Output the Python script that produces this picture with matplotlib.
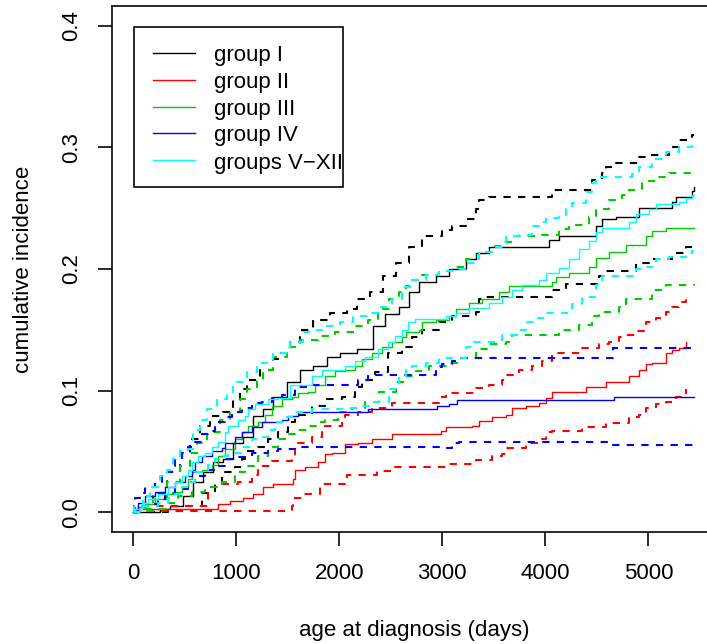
import matplotlib
matplotlib.use("Agg")
import matplotlib.pyplot as plt
from matplotlib.transforms import Affine2D

plt.rcParams['font.family'] = ['Liberation Sans', 'DejaVu Sans']

# ---------------- data (days, cumulative incidence) ----------------
labels = ["group I", "group II", "group III", "group IV", "groups V\u2212XII"]
colors = ["#000000", "#FF0000", "#00CD00", "#0000FF", "#00FFFF"]

g1_t = [0, 259, 356, 482, 578, 675, 772, 869, 966, 1063, 1160, 1257, 1354, 1489, 1615, 1741, 1877, 2003, 2168,
        2323, 2439, 2584, 2681, 2778, 2943, 3069, 3234, 3331, 3457, 4039, 4136, 4494, 4552, 4688, 4911, 5231,
        5270, 5425, 5440]
g1_y = [0, 0.0025, 0.005, 0.013, 0.025, 0.033, 0.041, 0.044, 0.057, 0.062, 0.079, 0.085, 0.095, 0.107, 0.117,
        0.120, 0.128, 0.131, 0.134, 0.153, 0.163, 0.169, 0.181, 0.189, 0.194, 0.200, 0.208, 0.213, 0.218, 0.224,
        0.227, 0.235, 0.241, 0.243, 0.250, 0.255, 0.259, 0.264, 0.267]
g1_up_t = [0, 193, 327, 453, 549, 646, 743, 869, 966, 1034, 1101, 1227, 1354, 1421, 1518, 1615, 1741, 1906, 2071,
           2168, 2294, 2420, 2555, 2681, 2807, 3001, 3098, 3234, 3331, 3360, 3457, 4068, 4455, 4552, 4591, 4688,
           4911, 5008, 5202, 5299, 5425, 5440]
g1_up_y = [0, 0.016, 0.033, 0.049, 0.060, 0.071, 0.079, 0.082, 0.092, 0.101, 0.109, 0.117, 0.126, 0.131, 0.140,
           0.150, 0.158, 0.164, 0.167, 0.175, 0.181, 0.194, 0.205, 0.218, 0.227, 0.232, 0.235, 0.241, 0.249, 0.257,
           0.259, 0.265, 0.273, 0.279, 0.284, 0.287, 0.292, 0.294, 0.300, 0.306, 0.310, 0.310]
g1_lo_t = [0, 337, 501, 666, 792, 860, 985, 1053, 1082, 1208, 1305, 1402, 1499, 1567, 1731, 1857, 2022, 2148, 2216,
           2342, 2468, 2604, 2710, 2807, 2972, 3098, 3331, 3360, 3428, 4068, 4204, 4523, 4591, 4882, 5037, 5231,
           5366, 5440]
g1_lo_y = [0, 0.001, 0.005, 0.016, 0.023, 0.033, 0.037, 0.044, 0.050, 0.054, 0.060, 0.066, 0.074, 0.080, 0.087,
           0.093, 0.095, 0.103, 0.109, 0.115, 0.131, 0.136, 0.144, 0.150, 0.156, 0.161, 0.165, 0.175, 0.177, 0.183,
           0.188, 0.194, 0.198, 0.205, 0.208, 0.213, 0.218, 0.218]

g2_t = [0, 30, 822, 937, 1063, 1160, 1257, 1354, 1547, 1567, 1663, 1789, 1857, 1925, 2051, 2177, 2313, 2507, 2991,
        3040, 3292, 3360, 3486, 3622, 3680, 3816, 3942, 4010, 4068, 4397, 4591, 4814, 4911, 4979, 5037, 5173,
        5231, 5299, 5366]
g2_y = [0, 0.003, 0.0066, 0.009, 0.012, 0.015, 0.021, 0.023, 0.027, 0.035, 0.037, 0.041, 0.048, 0.049, 0.056,
        0.057, 0.060, 0.064, 0.067, 0.070, 0.071, 0.075, 0.078, 0.080, 0.086, 0.087, 0.090, 0.094, 0.099, 0.103,
        0.107, 0.112, 0.117, 0.122, 0.123, 0.131, 0.133, 0.135, 0.140]
g2_up_t = [0, 17, 725, 860, 1015, 1150, 1208, 1344, 1538, 1567, 1731, 1828, 2022, 2051, 2177, 2313, 2507, 2972,
           3040, 3331, 3457, 3583, 3622, 3748, 3874, 3971, 4068, 4359, 4523, 4620, 4717, 4746, 4882, 4979, 5076,
           5173, 5231, 5299, 5366]
g2_up_y = [0, 0.005, 0.021, 0.023, 0.025, 0.031, 0.038, 0.042, 0.046, 0.057, 0.062, 0.071, 0.074, 0.080, 0.082,
           0.086, 0.090, 0.095, 0.098, 0.102, 0.105, 0.109, 0.113, 0.117, 0.120, 0.124, 0.131, 0.135, 0.138, 0.140,
           0.144, 0.146, 0.149, 0.156, 0.160, 0.165, 0.169, 0.173, 0.177]
g2_lo_t = [0, 30, 1538, 1547, 1644, 1809, 1815, 2075, 2361, 2507, 3040, 3331, 3486, 3583, 3622, 3816, 3971, 4010,
           4068, 4359, 4591, 4814, 4911, 4979, 5076, 5173, 5270, 5366]
g2_lo_y = [0, 0.001, 0.005, 0.012, 0.015, 0.019, 0.023, 0.031, 0.034, 0.037, 0.040, 0.043, 0.046, 0.048, 0.053,
           0.057, 0.060, 0.066, 0.067, 0.070, 0.073, 0.078, 0.080, 0.086, 0.089, 0.091, 0.095, 0.101]

g3_t = [0, 47, 114, 210, 307, 375, 472, 530, 569, 666, 763, 820, 889, 985, 1053, 1111, 1208, 1276, 1344, 1441,
        1538, 1596, 1693, 1761, 1857, 1954, 2051, 2148, 2216, 2313, 2410, 2507, 2613, 2652, 2778, 2807, 2943,
        3069, 3137, 3263, 3389, 3554, 3651, 4068, 4107, 4233, 4426, 4494, 4620, 4785, 4979, 5037, 5173, 5440]
g3_y = [0, 0.004, 0.0066, 0.011, 0.015, 0.017, 0.021, 0.027, 0.033, 0.035, 0.039, 0.046, 0.052, 0.060, 0.066,
        0.071, 0.074, 0.080, 0.087, 0.093, 0.095, 0.098, 0.099, 0.105, 0.112, 0.116, 0.117, 0.120, 0.126, 0.131,
        0.136, 0.140, 0.144, 0.148, 0.150, 0.156, 0.158, 0.161, 0.167, 0.172, 0.175, 0.181, 0.186, 0.189, 0.193,
        0.197, 0.202, 0.209, 0.214, 0.220, 0.227, 0.231, 0.234, 0.234]
g3_up_t = [0, 97, 193, 327, 453, 549, 617, 714, 840, 937, 1034, 1101, 1198, 1257, 1354, 1489, 1615, 1789, 1954,
           2148, 2274, 2371, 2487, 2584, 2652, 2710, 2807, 2972, 3098, 3234, 3360, 3486, 3583, 3680, 3971, 4136,
           4233, 4426, 4494, 4620, 4746, 4814, 4940, 5076, 5202, 5440]
g3_up_y = [0, 0.0025, 0.011, 0.025, 0.038, 0.049, 0.057, 0.066, 0.076, 0.082, 0.093, 0.101, 0.109, 0.117, 0.128,
           0.136, 0.142, 0.145, 0.148, 0.153, 0.158, 0.167, 0.175, 0.181, 0.186, 0.191, 0.195, 0.198, 0.202, 0.208,
           0.214, 0.219, 0.222, 0.227, 0.228, 0.233, 0.236, 0.243, 0.249, 0.257, 0.261, 0.265, 0.272, 0.276, 0.279,
           0.280]
g3_lo_t = [0, 87, 242, 337, 433, 569, 695, 743, 860, 985, 1082, 1208, 1305, 1402, 1470, 1596, 1693, 1789, 1857,
           1983, 2119, 2245, 2390, 2555, 2652, 2749, 2875, 3040, 3166, 3331, 3457, 3622, 3680, 4136, 4329, 4455,
           4523, 4717, 4785, 5037, 5173, 5440]
g3_lo_y = [0, 0.001, 0.0025, 0.008, 0.013, 0.017, 0.019, 0.021, 0.025, 0.033, 0.038, 0.046, 0.054, 0.060, 0.064,
           0.068, 0.071, 0.074, 0.076, 0.082, 0.086, 0.091, 0.099, 0.107, 0.112, 0.116, 0.120, 0.123, 0.127, 0.134,
           0.138, 0.140, 0.146, 0.150, 0.154, 0.161, 0.165, 0.169, 0.175, 0.183, 0.187, 0.188]

g4_t = [0, 5, 46, 114, 210, 307, 404, 501, 569, 598, 666, 763, 860, 889, 985, 1053, 1150, 1247, 1441, 1499, 1596,
        2274, 2952, 3069, 3147, 4668, 5440]
g4_y = [0, 0.0025, 0.008, 0.013, 0.017, 0.021, 0.025, 0.030, 0.035, 0.041, 0.046, 0.050, 0.053, 0.057, 0.062,
        0.066, 0.070, 0.074, 0.076, 0.079, 0.082, 0.085, 0.087, 0.089, 0.092, 0.095, 0.095]
g4_up_t = [0, 5, 17, 87, 114, 210, 278, 375, 404, 472, 530, 598, 666, 724, 792, 889, 956, 1053, 1150, 1247, 1344,
           1441, 1567, 1731, 2177, 2274, 2943, 3001, 3098, 3147, 4659, 5440]
g4_up_y = [0, 0.005, 0.012, 0.016, 0.021, 0.025, 0.033, 0.038, 0.044, 0.049, 0.054, 0.058, 0.064, 0.067, 0.074,
           0.078, 0.082, 0.086, 0.090, 0.091, 0.094, 0.096, 0.103, 0.105, 0.109, 0.113, 0.119, 0.122, 0.124, 0.127,
           0.135, 0.135]
g4_lo_t = [0, 46, 143, 242, 307, 404, 530, 598, 695, 792, 889, 985, 1150, 1305, 1402, 1567, 2972, 3098, 3166,
           4649, 5440]
g4_lo_y = [0, 0.005, 0.0066, 0.011, 0.015, 0.019, 0.025, 0.030, 0.035, 0.038, 0.044, 0.045, 0.049, 0.050, 0.052,
           0.054, 0.053, 0.057, 0.058, 0.055, 0.055]

g5_t = [0, 17, 87, 143, 242, 337, 404, 472, 530, 569, 627, 695, 763, 820, 889, 918, 1015, 1082, 1111, 1179, 1305,
        1402, 1518, 1731, 1828, 2051, 2148, 2245, 2371, 2468, 2536, 2604, 2662, 2730, 3040, 3137, 3263, 3457,
        3583, 3680, 3777, 3942, 4010, 4136, 4233, 4329, 4426, 4494, 4552, 4814, 4882, 5008, 5076, 5299, 5366,
        5425, 5440]
g5_y = [0, 0.0025, 0.008, 0.011, 0.015, 0.021, 0.025, 0.030, 0.035, 0.041, 0.046, 0.049, 0.054, 0.058, 0.066,
        0.071, 0.076, 0.079, 0.085, 0.089, 0.093, 0.094, 0.105, 0.112, 0.117, 0.120, 0.124, 0.128, 0.134, 0.140,
        0.145, 0.150, 0.156, 0.159, 0.161, 0.164, 0.168, 0.172, 0.177, 0.183, 0.187, 0.191, 0.197, 0.201, 0.208,
        0.216, 0.223, 0.230, 0.234, 0.239, 0.245, 0.249, 0.253, 0.255, 0.258, 0.261, 0.261]
g5_up_t = [0, 5, 97, 162, 259, 327, 385, 453, 578, 646, 714, 811, 908, 966, 1101, 1198, 1295, 1354, 1518, 1644,
           1780, 1877, 2003, 2129, 2265, 2390, 2516, 2613, 2710, 2846, 2972, 3166, 3234, 3360, 3486, 3622, 3748,
           3874, 3942, 4010, 4136, 4204, 4262, 4397, 4455, 4494, 4843, 4911, 5037, 5173, 5299, 5425, 5440]
g5_up_y = [0, 0.004, 0.013, 0.021, 0.030, 0.035, 0.044, 0.052, 0.068, 0.076, 0.085, 0.093, 0.099, 0.107, 0.115,
           0.123, 0.126, 0.131, 0.140, 0.148, 0.150, 0.153, 0.156, 0.161, 0.164, 0.169, 0.175, 0.185, 0.191, 0.195,
           0.198, 0.200, 0.205, 0.214, 0.218, 0.227, 0.228, 0.235, 0.239, 0.242, 0.243, 0.249, 0.254, 0.263, 0.271,
           0.276, 0.278, 0.284, 0.290, 0.296, 0.300, 0.305, 0.305]
g5_lo_t = [0, 87, 242, 337, 404, 472, 569, 598, 666, 724, 792, 860, 918, 1053, 1150, 1208, 1305, 1373, 1470, 1538,
           1731, 2051, 2177, 2313, 2487, 2584, 2652, 2710, 2846, 2972, 3234, 3292, 3583, 3719, 3816, 3913, 4010,
           4262, 4359, 4494, 4552, 4882, 4979, 5076, 5202, 5366, 5425, 5440]
g5_lo_y = [0, 0.005, 0.008, 0.012, 0.015, 0.021, 0.025, 0.033, 0.035, 0.039, 0.044, 0.046, 0.049, 0.054, 0.060,
           0.062, 0.068, 0.074, 0.078, 0.082, 0.085, 0.086, 0.087, 0.091, 0.101, 0.112, 0.117, 0.120, 0.123, 0.127,
           0.136, 0.140, 0.146, 0.150, 0.156, 0.160, 0.164, 0.171, 0.177, 0.187, 0.194, 0.200, 0.202, 0.208, 0.210,
           0.213, 0.215, 0.215]

series = [
    (g1_t, g1_y, g1_up_t, g1_up_y, g1_lo_t, g1_lo_y),
    (g2_t, g2_y, g2_up_t, g2_up_y, g2_lo_t, g2_lo_y),
    (g3_t, g3_y, g3_up_t, g3_up_y, g3_lo_t, g3_lo_y),
    (g4_t, g4_y, g4_up_t, g4_up_y, g4_lo_t, g4_lo_y),
    (g5_t, g5_y, g5_up_t, g5_up_y, g5_lo_t, g5_lo_y),
]

x_ticks = [0, 1000, 2000, 3000, 4000, 5000]
y_ticks = [0.0, 0.1, 0.2, 0.3, 0.4]
y_tick_labels = ["0.0", "0.1", "0.2", "0.3", "0.4"]

# ---------------- figure ----------------
W, H = 707, 644
fig = plt.figure(figsize=(W / 100, H / 100), dpi=100)
L, R, T, B = 111.7, 716.0, 6.2, 531.7
ax = fig.add_axes([L / W, 1 - B / H, (R - L) / W, (B - T) / H])

FS = 16
LW = 1.3
dash = (0, (3.5, 3.5))

for (t, y, ut, uy, lt, ly), c in zip(series, colors):
    ax.step(t, y, where='post', color=c, lw=1.0)
    ax.step(ut, uy, where='post', color=c, lw=1.5, linestyle=dash)
    ax.step(lt, ly, where='post', color=c, lw=1.5, linestyle=dash)

ax.set_xlim(-210, 5657)
ax.set_ylim(-0.016, 0.416)
ax.set_xticks(x_ticks)
ax.set_xticklabels([str(v) for v in x_ticks])
ax.set_yticks(y_ticks)
ax.set_yticklabels(y_tick_labels)
for lab in ax.get_yticklabels():
    lab.set_rotation(90)
    lab.set_va('center')
ax.tick_params(axis='both', direction='out', length=10, width=LW * 0.9,
               labelsize=FS, color='black')
ax.tick_params(axis='x', pad=12.5)
ax.tick_params(axis='y', pad=11)
for s in ax.spines.values():
    s.set_linewidth(LW * 0.9)

ax.set_xlabel("age at diagnosis (days)", fontsize=FS, labelpad=26)
ax.set_ylabel("cumulative incidence", fontsize=FS, labelpad=20)

# ---------------- legend (drawn in pixel coordinates) ----------------
pix = Affine2D().scale(1 / W, -1 / H).translate(0, 1) + fig.transFigure
fig.patches.append(plt.Rectangle((133.7, 26.7), 343 - 133.7, 187 - 26.7, fill=False,
                                 edgecolor='black', lw=LW * 0.9, transform=pix))
row_y = [53.3, 80.0, 107.0, 133.5, 160.5]
for lab, c, yy in zip(labels, colors, row_y):
    fig.lines.append(plt.Line2D([153.3, 194.5], [yy, yy], color=c, lw=1.0, transform=pix))
    fig.text(214.0 / W, 1 - yy / H, lab, fontsize=FS, va='center_baseline', ha='left')

fig.savefig("out.png", dpi=100)
